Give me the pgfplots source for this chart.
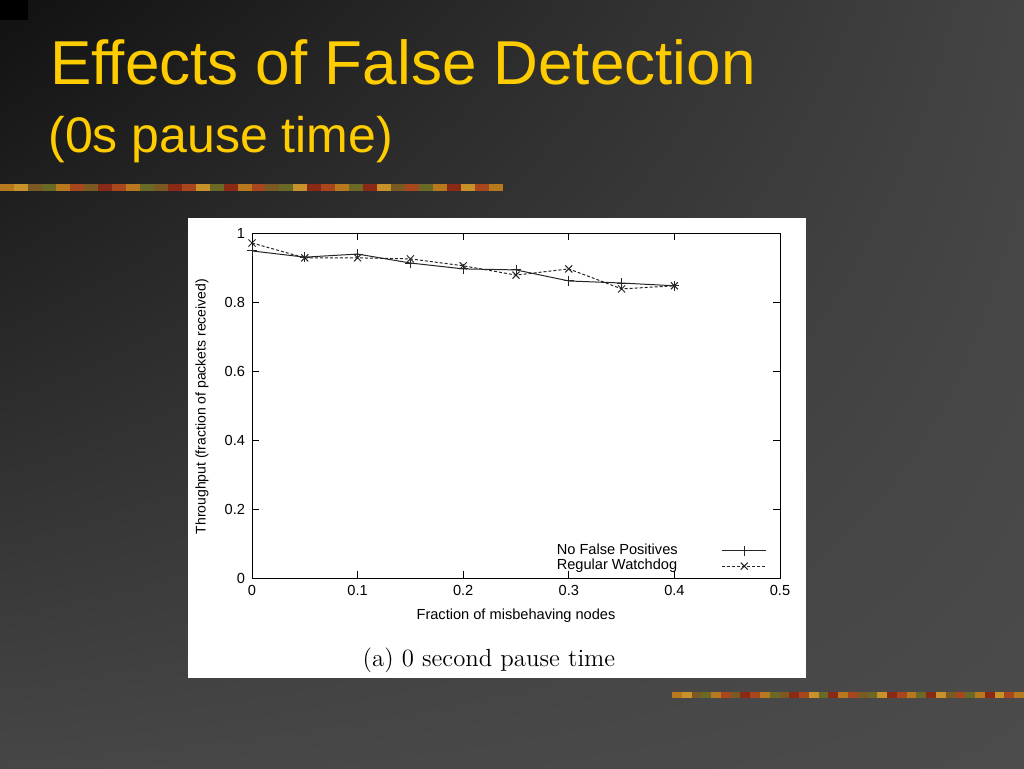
\documentclass[border=0pt]{standalone}
\usepackage{pgfplots}
\pgfplotsset{compat=1.18}
\usetikzlibrary{shadings}
\usepackage{fontspec}
\newfontfamily\arial{Liberation Sans}
\definecolor{ttl}{HTML}{FFCC00}
\definecolor{bgA}{HTML}{111111}
\definecolor{bgB}{HTML}{444444}
\definecolor{bgC}{HTML}{464646}
\definecolor{bgD}{HTML}{4B4B4B}
\definecolor{d1}{HTML}{B8781E}
\definecolor{d2}{HTML}{7A5A22}
\definecolor{d3}{HTML}{A8461E}
\definecolor{d4}{HTML}{6A6A26}
\definecolor{d5}{HTML}{8A2A16}
\definecolor{d6}{HTML}{C8922A}
\begin{document}
\begin{tikzpicture}
% slide background (1px = 0.5pt)
\shade[upper left=bgA, upper right=bgB, lower left=bgC, lower right=bgD] (0pt,0pt) rectangle (512pt,384pt);
\useasboundingbox (0pt,0pt) rectangle (512pt,384pt);
\fill[black] (0pt,374pt) rectangle (14pt,384pt);
% title
\node[anchor=base west, inner sep=0pt, text=ttl, font={\arial\fontsize{31}{36}\selectfont}] at (25pt,341.5pt) {Effects of False Detection};
\node[anchor=base west, inner sep=0pt, text=ttl, font={\arial\fontsize{25}{30}\selectfont}] at (24pt,308pt) {(0s pause time)};
% decorative bars
\foreach \i/\c in {0/d1,1/d6,2/d2,3/d4,4/d1,5/d3,6/d2,7/d5,8/d3,9/d1,10/d4,11/d2,12/d5,13/d3,14/d6,15/d4,16/d5,17/d1,18/d3,19/d2,20/d4,21/d6,22/d5,23/d3,24/d1,25/d4,26/d5,27/d6,28/d2,29/d3,30/d4,31/d1,32/d5,33/d6,34/d3,35/d1}{
  \fill[\c] ({\i*251.5pt/36},288.5pt) rectangle ({(\i+1)*251.5pt/36},292pt);
  \fill[\c] ({336pt+\i*176pt/36},35pt) rectangle ({336pt+(\i+1)*176pt/36},38pt);
}
% white figure box
\fill[white] (94pt,45pt) rectangle (403pt,275pt);
\node[anchor=base, inner sep=0pt, font={\fontsize{12.4}{14}\selectfont}] at (244.5pt,51pt) {(a) 0 second pause time};
\begin{axis}[
  at={(126pt,95pt)}, anchor=south west,
  scale only axis, width=264pt, height=172.5pt,
  xmin=0, xmax=0.5, ymin=0, ymax=1,
  xtick={0,0.1,...,0.5}, ytick={0,0.2,...,1},
  xticklabels={0,0.1,0.2,0.3,0.4,0.5},
  yticklabels={0,0.2,0.4,0.6,0.8,1},
  tick align=inside, major tick length=3.5pt,
  axis line style={line width=0.5pt}, every tick/.style={line width=0.5pt, black},
  tick label style={font={\arial\fontsize{7.3}{8.5}\selectfont}},
  /pgf/number format/assume math mode=true,
  xlabel={Fraction of misbehaving nodes},
  ylabel={Throughput (fraction of packets received)},
  every axis x label/.style={at={(axis description cs:0.5,-0.11)}, anchor=center, font={\arial\fontsize{7.3}{8.5}\selectfont}},
  every axis y label/.style={at={(axis description cs:-0.0947,0.497)}, anchor=center, rotate=90, font={\arial\fontsize{7.0}{8.5}\selectfont}},
  legend plot pos=right, legend cell align=left,
  legend style={draw=none, fill=none, at={(rel axis cs:0.569,0.112)}, anchor=north west,
    inner sep=0pt, font={\arial\fontsize{7.3}{8.5}\selectfont}, row sep=-3pt,
    /tikz/every odd column/.append style={column sep=20pt}},
  legend image code/.code={\draw[mark repeat=2,mark phase=2,#1] plot coordinates {(0pt,0pt)(11pt,0pt)(22pt,0pt)};},
]
\addplot[black!85, line width=0.5pt, mark=+, mark size=2.5pt, mark options={solid}] coordinates {
 (0,0.948) (0.05,0.930) (0.1,0.939) (0.15,0.913) (0.2,0.896) (0.25,0.893) (0.3,0.861) (0.35,0.855) (0.4,0.847)};
\addlegendentry{No False Positives}
\addplot[black!85, line width=0.5pt, dash pattern=on 1.5pt off 1pt, mark=x, mark size=2.5pt, mark options={solid}] coordinates {
 (0,0.971) (0.05,0.928) (0.1,0.928) (0.15,0.925) (0.2,0.905) (0.25,0.878) (0.3,0.896) (0.35,0.838) (0.4,0.847)};
\addlegendentry{Regular Watchdog}
\end{axis}
\end{tikzpicture}
\end{document}
